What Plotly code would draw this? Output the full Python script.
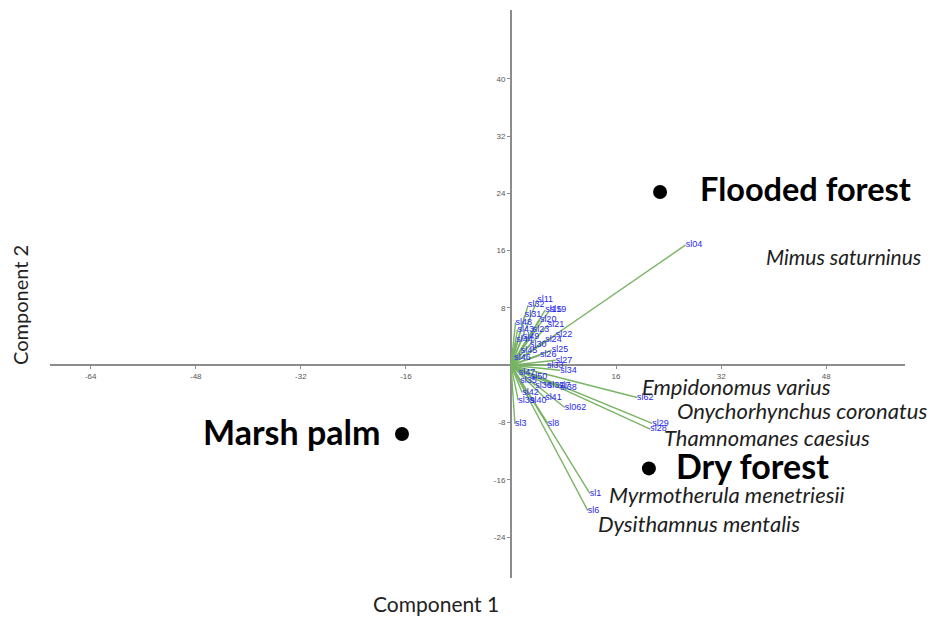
import plotly.graph_objects as go

# ---- data ----
x_ticks = [-64, -48, -32, -16, 16, 32, 48]
y_ticks = [-24, -16, -8, 8, 16, 24, 32, 40]

sites = ["Flooded forest", "Marsh palm", "Dry forest"]
site_x = [22.7, -16.6, 21.0]
site_y = [24.2, -9.6, -14.4]

# species loading vectors (end points) and their codes
vec_labels = ["sl04", "sl62", "sl29", "sl28", "sl1", "sl6",
              "sl062", "sl8", "sl3", "sl7", "sl11", "sl15", "sl19", "sl20", "sl21",
              "sl22", "sl23", "sl24", "sl25", "sl26", "sl27", "sl30", "sl31", "sl32",
              "sl33", "sl34", "sl35", "sl36", "sl37", "sl38", "sl39", "sl40", "sl41",
              "sl42", "sl43", "sl44", "sl45", "sl46", "sl47", "sl48", "sl49", "sl50"]
vec_x = [26.6, 19.2, 21.5, 21.2, 12.0, 11.7,
         8.2, 5.6, 0.6, 7.3, 4.0, 5.2, 5.9, 4.4, 5.6,
         6.8, 3.3, 5.2, 6.2, 4.4, 6.8, 2.9, 2.1, 2.6,
         5.5, 7.5, 1.4, 3.7, 5.6, 7.5, 1.1, 2.9, 5.2,
         1.7, 1.0, 0.8, 1.5, 0.5, 1.2, 0.7, 1.8, 3.0]
vec_y = [16.8, -4.5, -8.1, -8.9, -17.9, -20.3,
         -5.9, -8.1, -8.2, -2.9, 9.1, 7.7, 7.7, 6.3, 5.6,
         4.2, 4.9, 3.5, 2.1, 1.4, 0.7, 2.8, 7.0, 8.4,
         0.0, -0.7, -2.1, -2.8, -2.8, -3.2, -4.9, -4.9, -4.6,
         -3.8, 5.0, 3.5, 2.0, 1.0, -1.0, 6.0, 4.0, -1.6]

species = ["Mimus saturninus", "Empidonomus varius", "Onychorhynchus coronatus",
           "Thamnomanes caesius", "Myrmotherula menetriesii", "Dysithamnus mentalis"]
species_x = [38.6, 19.6, 24.9, 23.0, 14.6, 12.9]
species_y = [15.2, -2.9, -6.3, -10.1, -18.0, -22.1]

# ---- figure ----
xr = [-70.2, 60.0]
yr = [-29.7, 49.6]

lx, ly = [], []
for vx, vy in zip(vec_x, vec_y):
    lx += [0, vx, None]
    ly += [0, vy, None]

fig = go.Figure()
fig.add_trace(go.Scatter(x=lx, y=ly, mode="lines",
                         line=dict(color="rgb(120,180,100)", width=1.4),
                         hoverinfo="skip", showlegend=False))
fig.add_trace(go.Scatter(x=vec_x, y=vec_y, mode="text", text=vec_labels,
                         textposition="middle right",
                         textfont=dict(family="Liberation Sans", size=9, color="rgb(40,40,235)"),
                         showlegend=False))
fig.add_trace(go.Scatter(x=site_x, y=site_y, mode="markers",
                         marker=dict(color="black", size=14),
                         showlegend=False))

# site labels
site_anchor = ["left", "right", "left"]
site_shift = [38, -20, 25]
site_size = [32.5, 34, 34]
for name, sx, sy, anc, sh, fs in zip(sites, site_x, site_y, site_anchor, site_shift, site_size):
    fig.add_annotation(x=sx, y=sy, text="<b>%s</b>" % name, showarrow=False,
                       xanchor=anc, xshift=sh, yshift=3,
                       font=dict(family="Lato", size=fs, color="black"))

species_size = [21, 22, 22, 22, 22, 22]
for name, sx, sy, fs in zip(species, species_x, species_y, species_size):
    fig.add_annotation(x=sx, y=sy, text="<i>%s</i>" % name, showarrow=False,
                       xanchor="left", yanchor="middle",
                       font=dict(family="Lato", size=fs, color="rgb(30,30,30)"))

# axis titles (plot area spans 855 x 568 px)
fig.add_annotation(x=(436 - 50) / 855, y=(578 - 603) / 568, xref="x domain", yref="y domain",
                   text="Component 1", showarrow=False, xanchor="center", yanchor="middle",
                   font=dict(family="Lato", size=21, color="#222"))
fig.add_annotation(x=(20 - 50) / 855, y=(578 - 305) / 568, xref="x domain", yref="y domain",
                   text="Component 2", textangle=-90, showarrow=False,
                   xanchor="center", yanchor="middle",
                   font=dict(family="Lato", size=20, color="#222"))

axis_common = dict(showgrid=False, zeroline=False, showline=True, linecolor="#8c8c8c",
                   linewidth=2, ticks="outside", ticklen=3, tickwidth=1, tickcolor="#8c8c8c",
                   tickfont=dict(family="Liberation Sans", size=8, color="#555"),
                   layer="below traces", anchor="free")
fig.update_layout(
    width=920, height=617,
    margin=dict(l=42, r=23, t=2, b=47),
    paper_bgcolor="white", plot_bgcolor="white",
    xaxis=dict(range=xr, tickvals=x_ticks, ticktext=[str(v) for v in x_ticks],
               position=(0 - yr[0]) / (yr[1] - yr[0]), **axis_common),
    yaxis=dict(range=yr, tickvals=y_ticks, ticktext=[str(v) for v in y_ticks],
               position=(0 - xr[0]) / (xr[1] - xr[0]), **axis_common),
)

fig.write_html("out.html")
